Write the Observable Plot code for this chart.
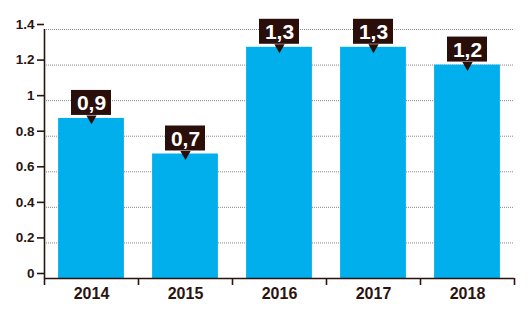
<!DOCTYPE html>
<html>
<head>
<meta charset="utf-8">
<script src="https://cdn.jsdelivr.net/npm/d3@7"></script>
<script src="https://cdn.jsdelivr.net/npm/@observablehq/plot@0.6"></script>
<style>
  html, body { margin: 0; padding: 0; background: #fff; }
  svg { font-family: "Liberation Sans", Arial, sans-serif; font-weight: bold; }
</style>
</head>
<body>
<div id="chart"></div>
<script>
const years = ["2014", "2015", "2016", "2017", "2018"];
const values = [0.9, 0.7, 1.3, 1.3, 1.2];
const yTicks = [0, 0.2, 0.4, 0.6, 0.8, 1, 1.2, 1.4];

const data = years.map((year, i) => ({year, i, value: values[i]}));
const boundaries = d3.range(years.length + 1);

const barColor = "#00afec";
const dark = "#2a0e0a";
const ink = "#2b1410";

const chart = Plot.plot({
  width: 530,
  height: 323,
  marginLeft: 44,
  marginRight: 16,
  marginTop: 29,
  marginBottom: 45,
  style: {fontFamily: "'Liberation Sans', Arial, sans-serif", fontWeight: "bold", background: "#fff"},
  x: {domain: [0, years.length], axis: null},
  y: {domain: [0, 1.4], axis: null},
  marks: [
    Plot.ruleY(yTicks.filter(d => d > 0), {stroke: "#8a8a8a", strokeWidth: 1, strokeDasharray: "1,1"}),
    Plot.rectY(data, {x1: d => d.i + 0.15, x2: d => d.i + 0.85, y: "value", fill: barColor}),
    Plot.ruleY([0], {stroke: ink, strokeWidth: 1.6}),
    Plot.ruleX([0], {y1: 0, y2: 1.4, stroke: ink, strokeWidth: 1.6}),
    Plot.axisY({ticks: yTicks, tickSize: 7, tickPadding: 3, stroke: ink, strokeWidth: 1.6, color: ink, fill: ink,
      fontSize: 13.5, dy: -5, tickFormat: d => String(+d.toFixed(1)), label: null}),
    Plot.axisX({ticks: boundaries, tickSize: 7, stroke: ink, strokeWidth: 1.6, tickFormat: () => "", label: null}),
    Plot.text(data, {x: d => d.i + 0.5, text: "year", frameAnchor: "bottom", lineAnchor: "middle", dy: 15,
      fill: ink, fontSize: 16, fontWeight: "bold"}),
    Plot.dot(data, {x: d => d.i + 0.5, y: "value", symbol: "triangle", rotate: 180, r: 3.8, fill: dark, stroke: null}),
    Plot.rect(data, {x1: d => d.i + 0.5, x2: d => d.i + 0.5, y1: "value", y2: "value",
      insetLeft: -20, insetRight: -20, insetTop: -28, insetBottom: 3, fill: dark}),
    Plot.text(data, {x: d => d.i + 0.5, y: "value", text: d => d3.format(".1f")(d.value).replace(".", ","),
      dy: -15, fill: "#fff", fontSize: 21, fontWeight: "bold", lineAnchor: "middle"})
  ]
});
document.getElementById("chart").appendChild(chart);
</script>
</body>
</html>
